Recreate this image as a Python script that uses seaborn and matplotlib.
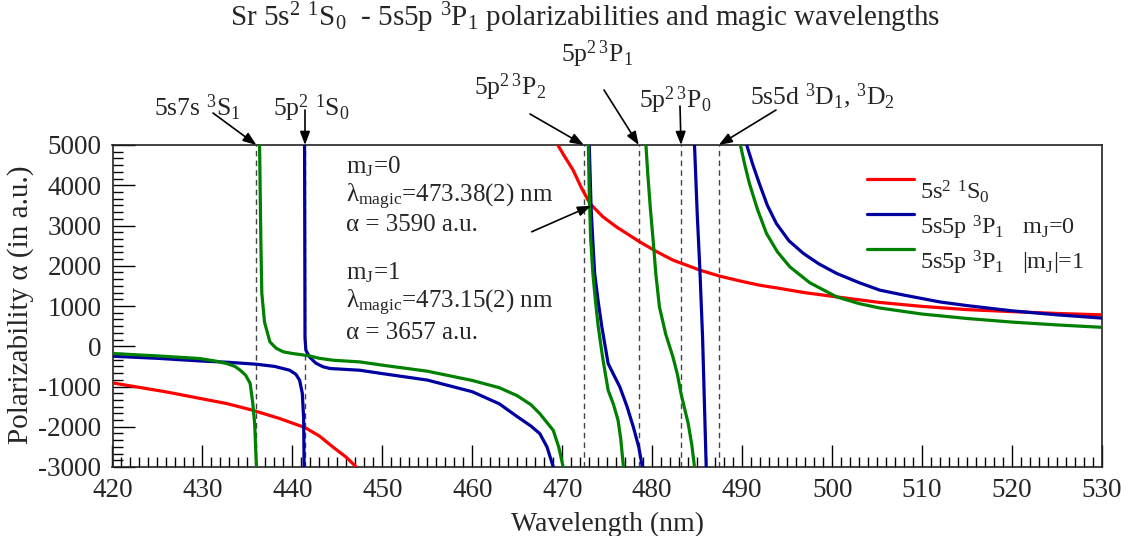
import numpy as np
import pandas as pd
import matplotlib
matplotlib.use("Agg")
import matplotlib.pyplot as plt
from matplotlib.lines import Line2D
import seaborn as sns
from matplotlib.ticker import MultipleLocator, AutoMinorLocator

# ---------------- data ----------------
# ground state 5s2 1S0 (two branches around the 460.9 nm pole)
red_a_x = [420.0, 426.0, 432.7, 435.6, 438.6, 441.4, 443.0, 444.5, 446.0, 447.1]
red_a_y = [-911, -1135, -1424, -1591, -1797, -2021, -2230, -2503, -2760, -3000]
red_b_x = [469.5, 470.3, 471.2, 472.1, 473.06, 474.5, 476.0, 478.6, 480.5, 482.3, 485.3, 487.5,
           490.0, 491.9, 494.2, 497.0, 500.5, 505.3, 510.0, 515.0, 520.0, 525.0, 530.0]
red_b_y = [5000, 4700, 4378, 3950, 3550, 3220, 2968, 2595, 2350, 2140, 1891, 1742,
           1610, 1518, 1436, 1330, 1227, 1088, 990, 910, 860, 815, 780]

# 5s5p 3P1 mJ=0
blue_a_x = [420.0, 425.0, 429.7, 433.0, 436.0, 438.0, 439.7, 440.4, 440.8, 441.1, 441.25, 441.3]
blue_a_y = [-248, -300, -365, -400, -447, -500, -596, -700, -845, -1170, -1800, -3000]
blue_b_x = [441.35, 441.4, 441.5, 441.9, 442.6, 443.4, 444.2, 447.5, 450.0, 455.0, 460.0,
            463.0, 465.0, 466.5, 467.5, 468.3, 469.0]
blue_b_y = [5000, 200, -100, -265, -420, -510, -553, -596, -680, -840, -1130,
            -1430, -1750, -1980, -2170, -2500, -3000]
blue_c_x = [473.0, 473.2, 473.4, 473.6, 474.0, 474.4, 475.1, 475.7, 476.4, 477.2, 477.9, 478.5, 478.9]
blue_c_y = [5000, 3466, 2600, 1809, 1100, 481, -430, -700, -1011, -1500, -2006, -2500, -3000]
blue_d_x = [484.7, 485.0, 485.3, 485.6, 486.0]
blue_d_y = [5000, 3300, 1891, 200, -3000]
blue_e_x = [490.5, 491.2, 491.9, 492.8, 493.8, 495.2, 496.8, 498.5, 500.5, 503.0, 505.3,
            508.0, 512.0, 515.0, 520.0, 525.0, 530.0]
blue_e_y = [5000, 4500, 4047, 3500, 3050, 2620, 2307, 2050, 1809, 1580, 1394,
            1270, 1100, 1010, 880, 780, 700]

# 5s5p 3P1 |mJ|=1
green_a_x = [420.0, 425.0, 429.7, 431.5, 432.7, 433.6, 434.2, 434.8, 435.3, 435.6, 435.8, 436.0]
green_a_y = [-181, -240, -305, -370, -430, -500, -596, -720, -920, -1424, -1914, -3000]
green_b_x = [436.35, 436.5, 436.6, 436.9, 437.5, 438.2, 439.0, 440.0, 441.0, 441.9, 443.0, 444.5,
             447.5, 450.0, 455.0, 460.0, 463.0, 465.0, 466.5, 467.5, 469.0, 469.6, 470.1]
green_b_y = [5000, 2500, 1312, 600, 108, -50, -140, -180, -210, -240, -300, -347,
             -389, -470, -620, -850, -1030, -1230, -1450, -1673, -2090, -2500, -3000]
green_c_x = [472.9, 473.0, 473.15, 473.4, 473.7, 474.0, 474.5, 475.1, 475.7, 476.2, 476.5, 476.8]
green_c_y = [5000, 3800, 2700, 1809, 1100, 481, -300, -1093, -1450, -1839, -2300, -3000]
green_d_x = [479.3, 479.5, 479.8, 480.1, 480.4, 480.8, 481.5, 482.3, 482.8, 483.2, 483.6, 484.0, 484.4, 484.7]
green_d_y = [5000, 4296, 3400, 2637, 1800, 978, 300, -265, -700, -1175, -1550, -1921, -2450, -3000]
green_e_x = [489.8, 490.3, 490.8, 491.7, 492.7, 493.9, 495.3, 497.5, 500.5, 503.0, 505.3,
             510.0, 515.0, 520.0, 525.0, 530.0]
green_e_y = [5000, 4500, 4047, 3400, 2804, 2350, 1973, 1580, 1227, 1060, 950,
             800, 690, 600, 530, 470]

series_names = [r"5s$^{2}$ $^{1}$S$_{0}$",
                r"5s5p $^{3}$P$_{1}$   m$_{\mathrm{J}}$=0",
                r"5s5p $^{3}$P$_{1}$   |m$_{\mathrm{J}}$|=1"]
series_colors = ["#ff0000", "#0000a0", "#008000"]

# resonance positions (dashed lines)
res_x = [436.0, 441.4, 472.4, 478.5, 483.2, 487.4]
res_labels = [r"5s7s $^{3}$S$_{1}$", r"5p$^{2}$ $^{1}$S$_{0}$", r"5p$^{2}$$^{\,3}$P$_{2}$",
              r"5p$^{2}$$^{\,3}$P$_{1}$", r"5p$^{2}$$^{\,3}$P$_{0}$",
              r"5s5d $^{3}$D$_{1}$, $^{3}$D$_{2}$"]

# magic crossing pointed at by the arrow
magic_x = 473.2
magic_y = 3490

# ---------------- build long-form table ----------------
rows = []
segments = [
    (0, red_a_x, red_a_y), (0, red_b_x, red_b_y),
    (1, blue_a_x, blue_a_y), (1, blue_b_x, blue_b_y), (1, blue_c_x, blue_c_y),
    (1, blue_d_x, blue_d_y), (1, blue_e_x, blue_e_y),
    (2, green_a_x, green_a_y), (2, green_b_x, green_b_y), (2, green_c_x, green_c_y),
    (2, green_d_x, green_d_y), (2, green_e_x, green_e_y),
]
for k, (s, xs, ys) in enumerate(segments):
    for xv, yv in zip(xs, ys):
        rows.append({"wl": xv, "alpha": yv, "series": series_names[s], "seg": k})
df = pd.DataFrame(rows)

# ---------------- style ----------------
sns.set_style("ticks")
plt.rcParams["font.family"] = ["Liberation Serif", "DejaVu Serif"]
plt.rcParams["mathtext.fontset"] = "custom"
plt.rcParams["mathtext.rm"] = "Liberation Serif"
plt.rcParams["mathtext.it"] = "Liberation Serif:italic"
plt.rcParams["mathtext.bf"] = "Liberation Serif:bold"
plt.rcParams["axes.unicode_minus"] = False

W, H = 1138.0, 536.0
fig = plt.figure(figsize=(W / 100, H / 100), dpi=100)
L, R, T, B = 112.5, 1102.0, 145.0, 467.0
ax = fig.add_axes([L / W, 1 - B / H, (R - L) / W, (B - T) / H])


def axfrac(px, py):
    return ((px - L) / (R - L), (B - py) / (B - T))


# dashed resonance lines
for xv in res_x:
    ax.axvline(xv, color="#444444", lw=1.0, ls=(0, (4, 3)), zorder=1)

sns.lineplot(data=df, x="wl", y="alpha", hue="series", units="seg",
             estimator=None, sort=False, palette=series_colors,
             hue_order=series_names, lw=2.3, ax=ax, zorder=3, legend=False)

ax.set_xlim(420, 530)
ax.set_ylim(-3000, 5000)
ax.xaxis.set_major_locator(MultipleLocator(10))
ax.xaxis.set_minor_locator(MultipleLocator(1))
ax.yaxis.set_major_locator(MultipleLocator(1000))
ax.yaxis.set_minor_locator(AutoMinorLocator(6))
ax.tick_params(axis="both", which="major", direction="in", length=16, width=1.0,
               labelsize=19.5, pad=8, color="black")
ax.tick_params(axis="both", which="minor", direction="in", length=7.5, width=1.0, color="black")
ax.tick_params(top=False, right=False, which="both")
for sp in ax.spines.values():
    sp.set_color("#222222")
    sp.set_linewidth(1.2)

ax.set_xlabel("Wavelength (nm)", fontsize=20, labelpad=6)
ax.set_ylabel("Polarizability α (in a.u.)", fontsize=21)
ax.yaxis.set_label_coords((34 - L) / (R - L), axfrac(0, 305)[1])

# legend (xmgrace style: line level with the top of the text)
legend_rows = [(179, 192), (214, 228), (249, 263)]
for name, col, (ly, ty) in zip(series_names, series_colors, legend_rows):
    x0, y0 = axfrac(867, ly)
    x1, _ = axfrac(914, ly)
    ax.add_line(Line2D([x0, x1], [y0, y0], transform=ax.transAxes, color=col, lw=2.3))
    tx_, ty_ = axfrac(920, ty)
    ax.text(tx_, ty_, name, transform=ax.transAxes, fontsize=17.5, va="center", ha="left")

# title
fig.text(585 / W, 1 - 26 / H,
         r"Sr 5s$^{2}$ $^{1}$S$_{0}$  - 5s5p $^{3}$P$_{1}$ polarizabilities and magic wavelengths",
         ha="center", va="baseline", fontsize=21)

# in-plot annotations
tx = 446.0
ann_texts = [r"m$_{\mathrm{J}}$=0", r"λ$_{\mathrm{magic}}$=473.38(2) nm", r"α = 3590 a.u.",
             r"m$_{\mathrm{J}}$=1", r"λ$_{\mathrm{magic}}$=473.15(2) nm", r"α = 3657 a.u."]
ann_y = [4460, 3714, 3010, 1816, 1070, 324]
for s, yv in zip(ann_texts, ann_y):
    ax.text(tx, yv, s, fontsize=18, va="center", ha="left")
ax.annotate("", xy=(magic_x, magic_y), xytext=(466.6, 2844),
            arrowprops=dict(arrowstyle="-|>,head_length=0.8,head_width=0.3", color="black",
                            lw=1.2, shrinkA=0, shrinkB=0))

# resonance labels above the axes (centre x, baseline y in pixels) and arrow tails
label_pos = [(197, 116), (311, 116), (510, 95), (597, 62), (675, 108), (822, 104)]
tail_pos = [(213, 113), (305, 110), (530, 114), (604, 90), (680, 106), (776, 110)]
for lab, (lx, ly), (ax_px, ay_px), xv in zip(res_labels, label_pos, tail_pos, res_x):
    fig.text(lx / W, 1 - ly / H, lab, ha="center", va="baseline", fontsize=18.5)
    ax.annotate("", xy=(xv, 5000), xycoords="data",
                xytext=(ax_px / W, 1 - ay_px / H), textcoords="figure fraction",
                arrowprops=dict(arrowstyle="-|>,head_length=0.8,head_width=0.3", color="black",
                                lw=1.2, shrinkA=0, shrinkB=0), annotation_clip=False)

fig.savefig("out.png", dpi=100)
